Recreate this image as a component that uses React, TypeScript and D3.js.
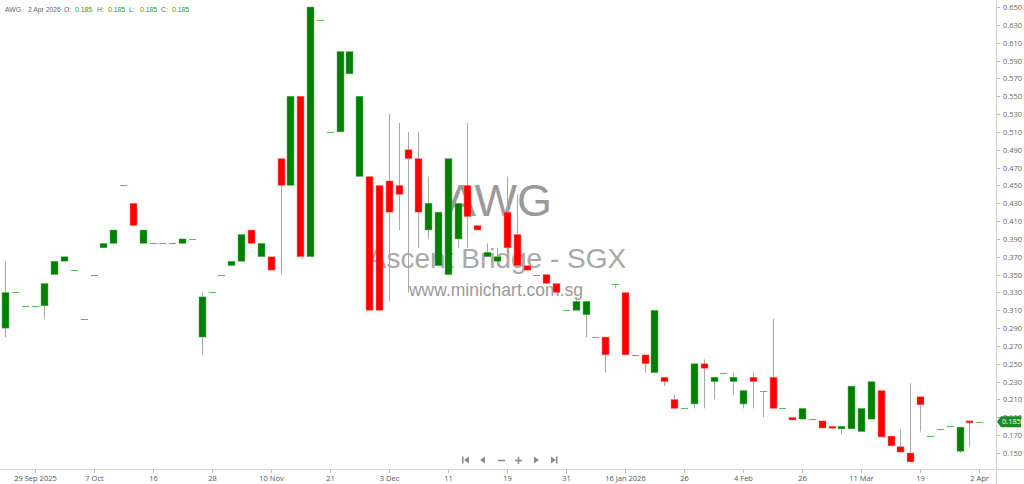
import React, { useEffect, useRef } from "react";
import * as d3 from "d3";

const opens = [0.29,0.33,0.315,0.315,0.315,0.35,0.365,0.355,0.30,0.35,0.38,0.385,0.45,0.43,0.385,0.385,0.385,0.385,0.385,0.39,
0.28,0.33,0.35,0.36,0.365,0.40,0.37,0.37,0.48,0.45,0.55,0.37,0.635,0.51,0.51,0.575,0.46,0.46,0.45,0.455,
0.45,0.49,0.48,0.40,0.36,0.35,0.39,0.45,0.405,0.37,0.365,0.42,0.395,0.36,0.35,0.35,0.34,0.31,0.31,0.305,
0.28,0.28,0.34,0.33,0.26,0.26,0.24,0.235,0.21,0.20,0.205,0.25,0.23,0.24,0.23,0.205,0.235,0.22,0.235,0.20,
0.19,0.188,0.188,0.186,0.18,0.177,0.177,0.174,0.188,0.22,0.169,0.157,0.15,0.213,0.169,0.177,0.18,0.152,0.186,0.185];
const highs = [0.365,0.33,0.315,0.315,0.34,0.365,0.37,0.355,0.30,0.35,0.385,0.40,0.45,0.43,0.40,0.385,0.385,0.385,0.39,0.39,
0.33,0.33,0.35,0.365,0.395,0.40,0.385,0.37,0.48,0.55,0.55,0.65,0.635,0.51,0.60,0.60,0.55,0.46,0.45,0.53,
0.52,0.51,0.51,0.46,0.42,0.48,0.43,0.52,0.405,0.385,0.38,0.46,0.44,0.36,0.35,0.35,0.34,0.31,0.325,0.32,
0.28,0.28,0.34,0.33,0.26,0.26,0.31,0.235,0.215,0.20,0.25,0.255,0.235,0.24,0.24,0.22,0.24,0.22,0.30,0.20,
0.19,0.20,0.188,0.186,0.18,0.18,0.225,0.20,0.23,0.22,0.169,0.177,0.228,0.213,0.169,0.177,0.18,0.179,0.186,0.185];
const lows = [0.28,0.33,0.315,0.315,0.30,0.35,0.365,0.355,0.30,0.35,0.38,0.385,0.45,0.405,0.385,0.385,0.385,0.385,0.385,0.39,
0.26,0.33,0.35,0.36,0.365,0.385,0.37,0.355,0.35,0.45,0.37,0.37,0.635,0.51,0.51,0.575,0.46,0.31,0.31,0.32,
0.40,0.33,0.38,0.39,0.36,0.35,0.38,0.38,0.40,0.37,0.36,0.38,0.36,0.355,0.35,0.34,0.33,0.31,0.31,0.28,
0.28,0.24,0.335,0.26,0.26,0.24,0.24,0.225,0.20,0.20,0.20,0.20,0.21,0.24,0.215,0.20,0.20,0.19,0.20,0.20,
0.187,0.188,0.188,0.178,0.178,0.171,0.177,0.174,0.188,0.168,0.158,0.151,0.14,0.174,0.169,0.177,0.18,0.15,0.157,0.185];
const closes = [0.33,0.33,0.315,0.315,0.34,0.365,0.37,0.355,0.30,0.35,0.385,0.40,0.45,0.405,0.40,0.385,0.385,0.385,0.39,0.39,
0.325,0.33,0.35,0.365,0.395,0.385,0.385,0.355,0.45,0.55,0.37,0.65,0.635,0.51,0.60,0.60,0.55,0.31,0.31,0.42,
0.44,0.48,0.42,0.43,0.42,0.48,0.43,0.415,0.40,0.375,0.37,0.38,0.36,0.355,0.35,0.34,0.33,0.31,0.32,0.32,
0.28,0.26,0.34,0.26,0.26,0.25,0.31,0.23,0.20,0.20,0.25,0.245,0.235,0.24,0.235,0.22,0.23,0.22,0.20,0.20,
0.187,0.20,0.188,0.178,0.178,0.18,0.225,0.20,0.23,0.168,0.158,0.151,0.14,0.204,0.169,0.177,0.18,0.179,0.184,0.185];

const xTickIndex = [3,9,15,21,27,33,39,45,51,57,63,69,75,81,87,93,99];
const xTickLabels = ["29 Sep 2025","7 Oct","16","28","10 Nov","21","3 Dec","11","19","31","16 Jan 2026","26","4 Feb","26","11 Mar","19","2 Apr"];
const yTicks = d3.range(0.15, 0.6501, 0.02);

const FONT = "'Open Sans', 'DejaVu Sans', sans-serif";
const HFONT = "'Liberation Sans', Arial, sans-serif";

export default function App() {
  const ref = useRef<SVGSVGElement>(null);
  useEffect(() => {
    document.body.style.margin = "0";
    const svg = d3.select(ref.current);
    svg.selectAll("*").remove();
    const W = 1024, H = 484;
    const axisX = 996, axisY = 469;
    const x = d3.scaleLinear().domain([0, 99]).range([5, 979.2]);
    const y = d3.scaleLinear().domain([0.15, 0.65]).range([453, 7]);
    const bw = 7;

    svg.append("rect").attr("width", W).attr("height", H).attr("fill", "#fff");

    // watermark
    const wm = svg.append("g").attr("font-family", HFONT).attr("text-anchor", "middle").attr("fill", "#9a9a9a");
    wm.append("text").attr("x", 499).attr("y", 216).attr("font-size", 45).text("AWG");
    wm.append("text").attr("x", 497).attr("y", 268).attr("font-size", 28).attr("fill", "#a8a8a8").text("Ascent Bridge - SGX");
    wm.append("text").attr("x", 496).attr("y", 296).attr("font-size", 17.5).text("www.minichart.com.sg");

    // axes lines
    svg.append("line").attr("x1", axisX + 0.5).attr("x2", axisX + 0.5).attr("y1", 0).attr("y2", H).attr("stroke", "#d0d0d0");
    svg.append("line").attr("x1", 0).attr("x2", W).attr("y1", axisY + 0.5).attr("y2", axisY + 0.5).attr("stroke", "#d8d8d8");

    // y axis
    const ya = svg.append("g").attr("font-family", FONT).attr("font-size", 7.5).attr("fill", "#666");
    yTicks.forEach((t) => {
      const yy = Math.round(y(t)) + 0.5;
      ya.append("line").attr("x1", axisX + 1).attr("x2", axisX + 4).attr("y1", yy).attr("y2", yy).attr("stroke", "#bbb");
      ya.append("text").attr("x", 1003).attr("y", yy).attr("dy", "0.35em").text(t.toFixed(3));
    });

    // x axis
    const xa = svg.append("g").attr("font-family", FONT).attr("font-size", 7.5).attr("fill", "#555").attr("text-anchor", "middle");
    xTickIndex.forEach((idx, k) => {
      const xx = Math.round(x(idx)) + 0.5;
      xa.append("line").attr("x1", xx).attr("x2", xx).attr("y1", axisY + 1).attr("y2", axisY + 4).attr("stroke", "#bbb");
      xa.append("text").attr("x", xx).attr("y", 481).text(xTickLabels[k]);
    });

    // candles
    const g = svg.append("g");
    opens.forEach((o, i) => {
      const c = closes[i], h = highs[i], l = lows[i];
      const cx = Math.round(x(i)) + 0.5;
      if (h > Math.max(o, c) || l < Math.min(o, c)) {
        g.append("line").attr("x1", cx).attr("x2", cx).attr("y1", y(h)).attr("y2", y(l)).attr("stroke", "#a8a8a8").attr("stroke-width", 1);
      }
      if (o === c) {
        g.append("line").attr("x1", cx - bw / 2).attr("x2", cx + bw / 2).attr("y1", Math.round(y(o)) + 0.5).attr("y2", Math.round(y(o)) + 0.5)
          .attr("stroke", "#5fb85f").attr("stroke-width", 1);
      } else {
        const top = y(Math.max(o, c)), bot = y(Math.min(o, c));
        g.append("rect").attr("x", cx - bw / 2).attr("y", top).attr("width", bw).attr("height", Math.max(2, bot - top))
          .attr("fill", c > o ? "#008000" : "#ff0000")
          .attr("stroke", c > o ? "#66b366" : "#ff8080").attr("stroke-width", 0.5);
      }
    });

    // header
    const hd = svg.append("g").attr("font-family", HFONT).attr("font-size", 6.8).attr("fill", "#666");
    const last = opens.length - 1;
    hd.append("text").attr("x", 5).attr("y", 12).text("AWG");
    hd.append("text").attr("x", 28).attr("y", 12).text("2 Apr 2026");
    const parts: [string, number, number][] = [["O:", 64, opens[last]], ["H:", 97, highs[last]], ["L:", 129, lows[last]], ["C:", 161, closes[last]]];
    parts.forEach(([lab, px, v]) => {
      hd.append("text").attr("x", px).attr("y", 12).text(lab);
      hd.append("text").attr("x", px + 11).attr("y", 12).attr("fill", "#22a022").text(v.toFixed(3));
    });

    // current price tag
    const cy = y(closes[last]);
    svg.append("path")
      .attr("d", `M997,${cy} L1001,${cy - 5.5} L1021,${cy - 5.5} L1021,${cy + 5.5} L1001,${cy + 5.5} Z`)
      .attr("fill", "#1d8a1d");
    svg.append("text").attr("x", 1002).attr("y", cy).attr("dy", "0.35em").attr("font-family", FONT).attr("font-size", 7.5)
      .attr("fill", "#fff").text(closes[last].toFixed(3));

    // nav icons
    const nav = svg.append("g").attr("fill", "#8a8a8a").attr("stroke", "#8a8a8a");
    const ny = 460;
    nav.append("rect").attr("x", 462).attr("y", ny - 3.5).attr("width", 1.5).attr("height", 7).attr("stroke", "none");
    nav.append("path").attr("d", `M464,${ny} L469,${ny - 3.5} L469,${ny + 3.5} Z`).attr("stroke", "none");
    nav.append("path").attr("d", `M480,${ny} L485,${ny - 3.5} L485,${ny + 3.5} Z`).attr("stroke", "none");
    nav.append("line").attr("x1", 498).attr("x2", 505).attr("y1", ny + 0.5).attr("y2", ny + 0.5).attr("stroke-width", 1.5);
    nav.append("line").attr("x1", 515).attr("x2", 522).attr("y1", ny + 0.5).attr("y2", ny + 0.5).attr("stroke-width", 1.5);
    nav.append("line").attr("x1", 518.5).attr("x2", 518.5).attr("y1", ny - 3).attr("y2", ny + 4).attr("stroke-width", 1.5);
    nav.append("path").attr("d", `M539,${ny} L534,${ny - 3.5} L534,${ny + 3.5} Z`).attr("stroke", "none");
    nav.append("path").attr("d", `M556,${ny} L551,${ny - 3.5} L551,${ny + 3.5} Z`).attr("stroke", "none");
    nav.append("rect").attr("x", 556).attr("y", ny - 3.5).attr("width", 1.5).attr("height", 7).attr("stroke", "none");
  }, []);
  return <svg ref={ref} width={1024} height={484} style={{ position: "absolute", left: 0, top: 0, display: "block" }} />;
}
